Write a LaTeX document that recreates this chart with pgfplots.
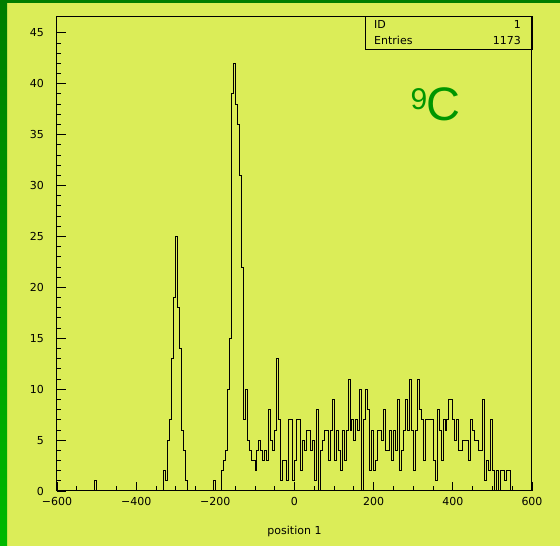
\documentclass[border=0pt]{standalone}
\usepackage{pgfplots}
\pgfplotsset{compat=1.18}
\usepackage{pgfplotstable}
\usepackage{fontspec}
\setmainfont{DejaVu Sans}
\newfontfamily\bigfont{Liberation Sans}
\definecolor{panel}{RGB}{219,237,88}
\definecolor{isotope}{RGB}{0,150,0}
\definecolor{edgedark}{RGB}{0,125,0}
\definecolor{edgelight}{RGB}{0,185,0}

% bin left edge (width 5) and entries per bin
\pgfplotstableread{
x y
-600 0
-505 1
-500 0
-330 2
-325 1
-320 5
-315 7
-310 13
-305 19
-300 25
-295 18
-290 14
-285 6
-280 4
-275 1
-270 0
-205 1
-200 0
-185 2
-180 3
-175 4
-170 10
-165 15
-160 39
-155 42
-150 38
-145 36
-140 31
-135 22
-130 7
-125 10
-120 5
-115 4
-110 3
-105 3
-100 2
-95 4
-90 5
-85 4
-80 3
-75 4
-70 3
-65 8
-60 5
-55 4
-50 6
-45 13
-40 7
-35 1
-30 3
-25 3
-20 1
-15 7
-10 7
-5 1
0 3
5 7
10 7
15 2
20 5
25 4
30 6
35 6
40 4
45 5
50 1
55 8
60 0
65 4
70 5
75 6
80 6
85 3
90 6
95 9
100 3
105 6
110 4
115 2
120 6
125 3
130 6
135 11
140 6
145 7
150 5
155 7
160 6
165 10
170 0
175 7
180 10
185 8
190 2
195 6
200 2
205 3
210 6
215 6
220 5
225 8
230 4
235 4
240 6
245 3
250 6
255 4
260 9
265 2
270 4
275 6
280 9
285 6
290 11
295 6
300 2
305 6
310 11
315 8
320 7
325 3
330 7
335 7
340 7
345 7
350 3
355 1
360 8
365 6
370 3
375 7
380 6
385 7
390 9
395 9
400 7
405 5
410 7
415 4
420 4
425 5
430 5
435 5
440 3
445 7
450 6
455 5
460 5
465 4
470 4
475 9
480 1
485 3
490 2
495 7
500 2
505 0
510 2
515 0
520 2
525 2
530 1
535 2
540 2
545 0
600 0
}\histdata

\begin{document}
\begin{tikzpicture}[x=1pt,y=1pt]
% canvas and frame strips
\fill[panel] (0,0) rectangle (560,546);
\shade[top color=edgedark, bottom color=edgelight] (0,0) rectangle (7,546);
\fill[edgedark] (0,543) rectangle (560,546);

\begin{axis}[
  at={(57pt,55pt)}, anchor=south west,
  scale only axis, width=475pt, height=474pt,
  xmin=-600, xmax=600, ymin=0, ymax=46.55,
  axis line style={line width=1pt},
  tick align=inside,
  xtick pos=lower, ytick pos=left,
  xtick={-600,-400,-200,0,200,400,600},
  xticklabels={−600,−400,−200,0,200,400,600},
  ytick={0,5,10,15,20,25,30,35,40,45},
  yticklabels={0,5,10,15,20,25,30,35,40,45},
  minor x tick num=3, minor y tick num=4,
  major tick length=9pt, minor tick length=4.5pt,
  every tick/.style={black, line width=0.8pt},
  x tick label style={font=\fontsize{11}{13}\selectfont, anchor=north, inner sep=0pt, yshift=-6pt},
  y tick label style={font=\fontsize{11}{13}\selectfont, anchor=east, inner sep=0pt, xshift=-13pt},
  xlabel={position 1},
  xlabel style={at={(axis description cs:0.5,0)}, anchor=center, yshift=-40.5pt, font=\fontsize{11}{13}\selectfont},
]
\addplot[const plot, black, line width=0.8pt] table[x=x, y=y] {\histdata};
\end{axis}

% statistics box
\draw[line width=1pt] (365,496) rectangle (532,529);
\begin{scope}[every node/.style={inner sep=0pt, font=\fontsize{11}{13}\selectfont}]
\node[anchor=base west] at (374,517.5) {ID};
\node[anchor=base east] at (521,517.5) {1};
\node[anchor=base west] at (374,501.5) {Entries};
\node[anchor=base east] at (521,501.5) {1173};
\end{scope}

% isotope label
\node[anchor=base west, inner sep=0pt, text=isotope, font=\bigfont\fontsize{30}{30}\selectfont] at (410.5,436.7) {9};
\node[anchor=base west, inner sep=0pt, text=isotope, font=\bigfont\fontsize{47}{47}\selectfont] at (426,425) {C};
\end{tikzpicture}
\end{document}
